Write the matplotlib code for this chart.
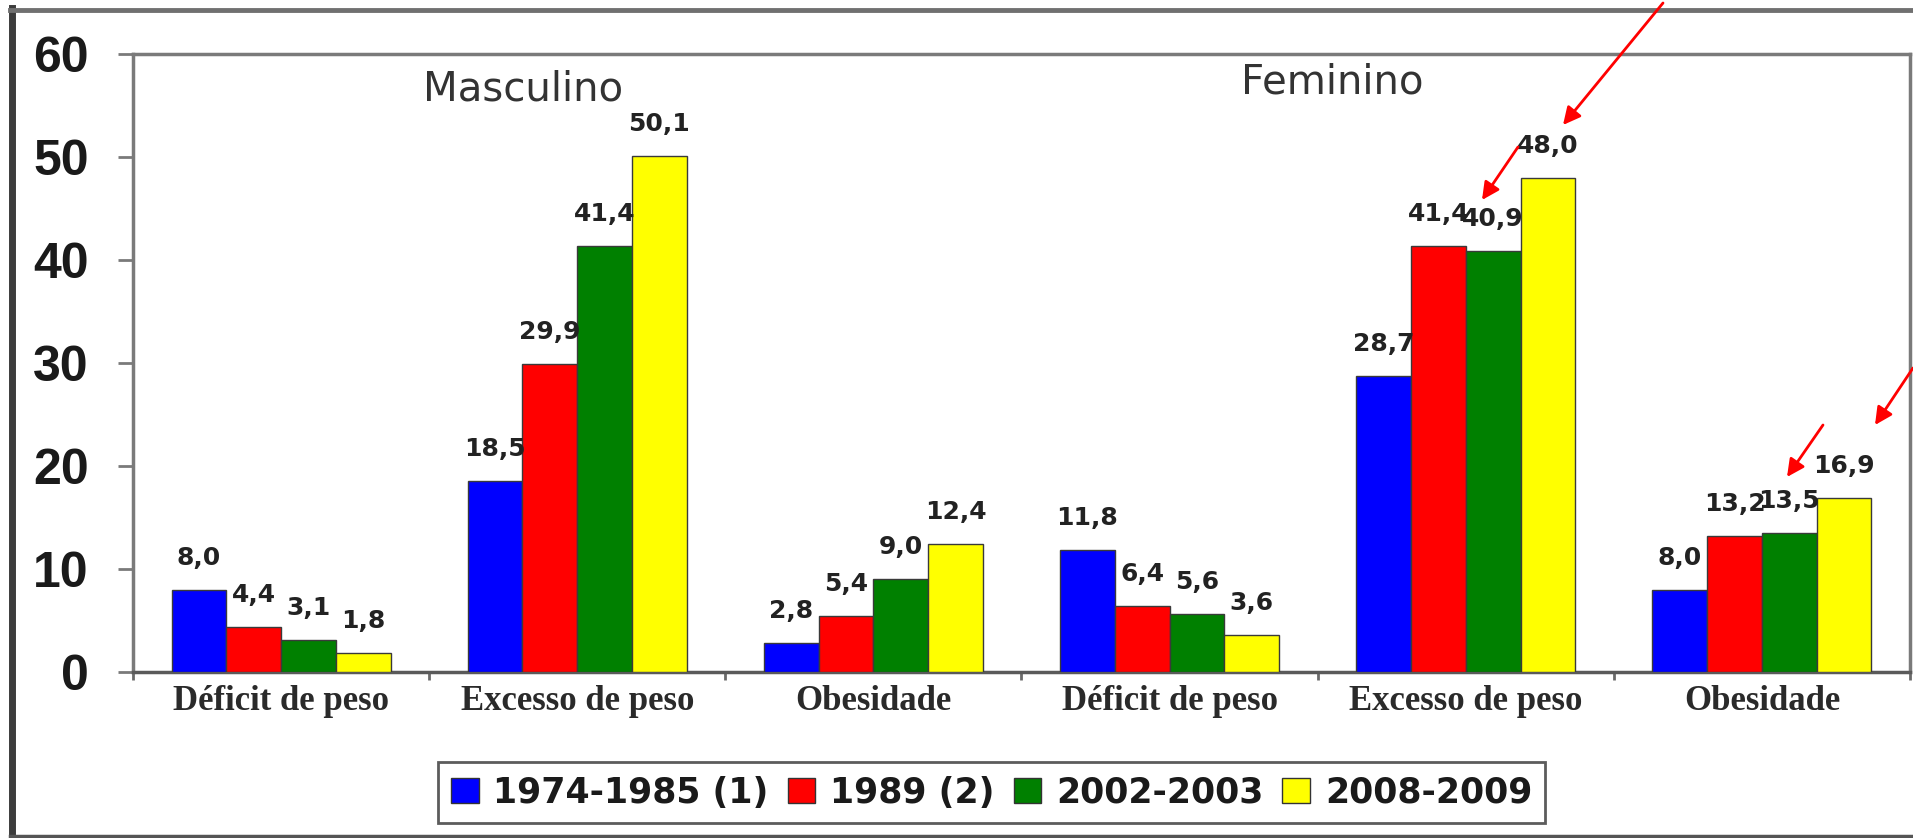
import matplotlib
matplotlib.use("Agg")
import matplotlib.pyplot as plt
import numpy as np
from matplotlib.patches import Patch, FancyArrowPatch
from matplotlib.lines import Line2D

# ---- data ----
categories = ["Déficit de peso", "Excesso de peso", "Obesidade",
              "Déficit de peso", "Excesso de peso", "Obesidade"]
group_titles = ["Masculino", "Feminino"]
periods = ["1974-1985 (1)", "1989 (2)", "2002-2003", "2008-2009"]
s_1974 = [8.0, 18.5, 2.8, 11.8, 28.7, 8.0]
s_1989 = [4.4, 29.9, 5.4, 6.4, 41.4, 13.2]
s_2002 = [3.1, 41.4, 9.0, 5.6, 40.9, 13.5]
s_2008 = [1.8, 50.1, 12.4, 3.6, 48.0, 16.9]
series = [s_1974, s_1989, s_2002, s_2008]
colors = ["#0000FF", "#FF0000", "#008000", "#FFFF00"]
yticks = [0, 10, 20, 30, 40, 50, 60]

W, H = 1913, 838
fig = plt.figure(figsize=(W / 100, H / 100), dpi=100)
fig.patch.set_facecolor("white")

def fx(px):
    return px / W

def fy(py):
    return 1 - py / H

left, right = 133, 1910
top, bottom = 54, 672
ax = fig.add_axes([fx(left), fy(bottom), fx(right) - fx(left), fy(top) - fy(bottom)])
cat_w = 296.7
ax.set_xlim(-0.5, -0.5 + (right - left) / cat_w)
ax.set_ylim(0, 60)

x = np.arange(len(categories))
bw = 0.185
for i, (vals, c) in enumerate(zip(series, colors)):
    pos = x + (i - 1.5) * bw
    bars = ax.bar(pos, vals, width=bw, color=c, edgecolor="#3a3a3a", linewidth=1.0, zorder=3)
    for b, v in zip(bars, vals):
        ax.annotate(f"{v:.1f}".replace(".", ","),
                    xy=(b.get_x() + b.get_width() / 2, v),
                    xytext=(0, 18), textcoords="offset points",
                    ha="center", va="baseline", fontsize=18, fontweight="bold",
                    family="DejaVu Sans", color="#222222", zorder=5)

# axes styling
for s in ["top", "right", "left", "bottom"]:
    ax.spines[s].set_color("#7a7a7a")
    ax.spines[s].set_linewidth(2.5)
ax.spines["bottom"].set_color("#5a5a5a")

ax.set_yticks(yticks)
ax.set_yticklabels([str(t) for t in yticks], fontsize=36, fontweight="bold",
                   family="Liberation Sans", color="#1a1a1a")
ax.tick_params(axis="y", direction="out", length=11, width=2, color="#7a7a7a", pad=21)

ax.set_xticks(x)
ax.set_xticklabels(categories, fontsize=25, fontweight="bold",
                   family="Liberation Serif", color="#2a2a2a")
ax.tick_params(axis="x", which="major", length=0, pad=9)
ax.set_xticks(np.arange(-0.5, 6.0, 1.0), minor=True)
ax.tick_params(axis="x", which="minor", direction="out", length=6, width=2, color="#6a6a6a")

# group titles
ax.text(0.818, 55.5, group_titles[0], ha="center", va="baseline", fontsize=29,
        family="DejaVu Sans", color="#333333")
ax.text(3.55, 56.2, group_titles[1], ha="center", va="baseline", fontsize=29,
        family="DejaVu Sans", color="#333333")

# legend
handles = [Patch(facecolor=c, edgecolor="#333333", linewidth=1.0) for c in colors]
leg = fig.legend(handles, periods, loc="center",
                 bbox_to_anchor=(fx(991.5), fy(792.5)), ncol=4,
                 prop={"family": "DejaVu Sans", "weight": "bold", "size": 25},
                 handlelength=0.8, handleheight=0.72, handletextpad=0.42,
                 columnspacing=0.55, borderpad=0.38, borderaxespad=0,
                 fancybox=False, frameon=True)
leg.get_frame().set_edgecolor("#333333")
leg.get_frame().set_linewidth(2)
for t in leg.get_texts():
    t.set_color("#1a1a1a")

# outer frame of the picture
fig.add_artist(Line2D([fx(12), fx(12)], [fy(8), fy(836)], color="#3c3c3c", lw=5,
                      transform=fig.transFigure))
fig.add_artist(Line2D([fx(10), fx(1913)], [fy(10), fy(10)], color="#707070", lw=3.5,
                      transform=fig.transFigure))
fig.add_artist(Line2D([fx(10), fx(1913)], [fy(836), fy(836)], color="#555555", lw=2.5,
                      transform=fig.transFigure))

# red arrows
arrows = [((1663, 3), (1563, 125)),
          ((1518, 147), (1482, 200)),
          ((1823, 425), (1787, 477)),
          ((1913, 368), (1875, 425))]
for (x0, y0), (x1, y1) in arrows:
    fig.add_artist(FancyArrowPatch((fx(x0), fy(y0)), (fx(x1), fy(y1)),
                                   transform=fig.transFigure,
                                   arrowstyle="-|>,head_length=0.7,head_width=0.35",
                                   mutation_scale=15, color="#FF0000", lw=2.0,
                                   shrinkA=0, shrinkB=0, zorder=10))

fig.savefig("out.png", dpi=100)
